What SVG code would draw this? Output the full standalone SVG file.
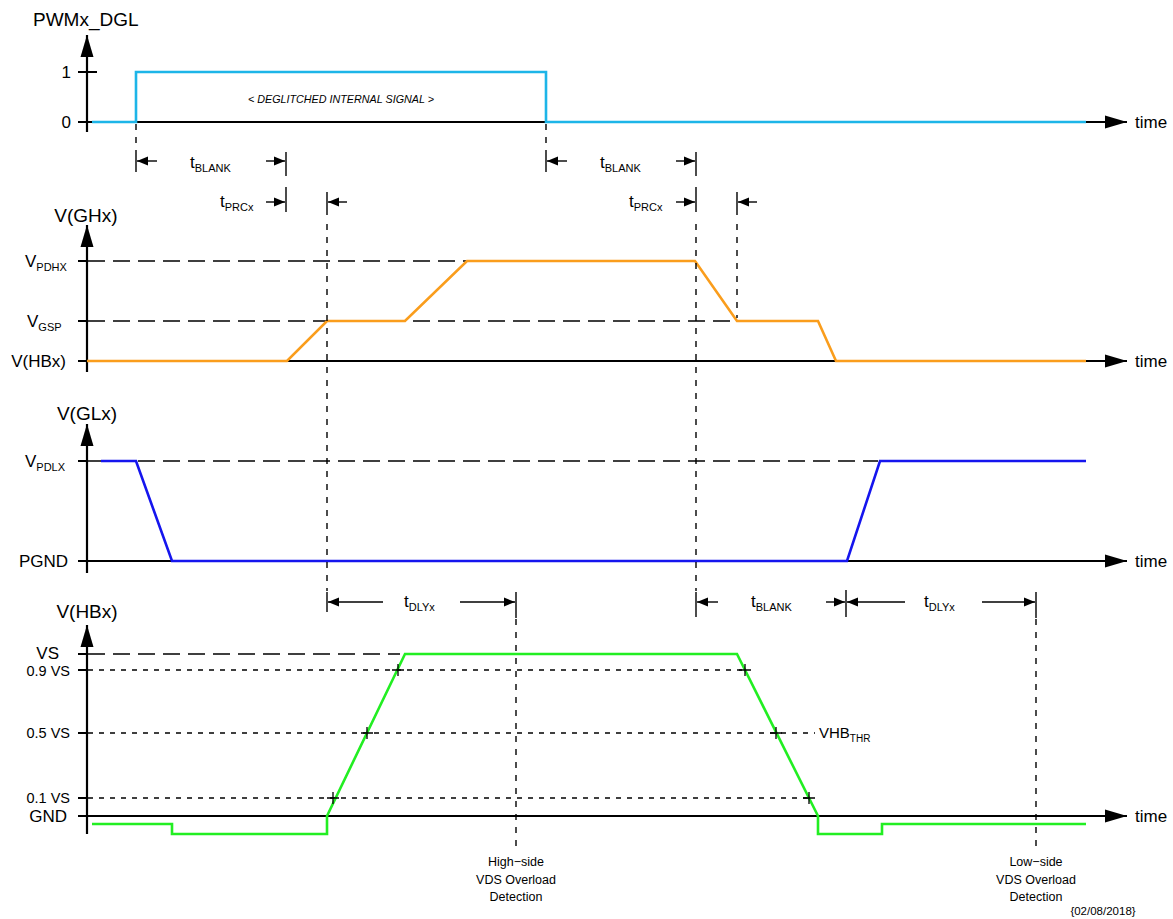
<svg xmlns="http://www.w3.org/2000/svg" width="1173" height="919" viewBox="0 0 1173 919">
<style>
text{font-family:"Liberation Sans",Arial,sans-serif;fill:#000}
.ttl{font-size:19px}
.lbl{font-size:17px}
.sml{font-size:14.5px}
.sub{font-size:11px}
.note{font-size:12.5px}
.ax{stroke:#000;stroke-width:2.2;fill:none}
.tk{stroke:#000;stroke-width:2;fill:none}
.sig{fill:none;stroke-width:2.6;stroke-linejoin:miter}
.ld{stroke:#000;stroke-width:1.4;stroke-dasharray:17 8;fill:none}
.sd{stroke:#000;stroke-width:1.3;stroke-dasharray:5 6;fill:none}
.vd{stroke:#000;stroke-width:1.4;stroke-dasharray:6 7;fill:none}
.bar{stroke:#000;stroke-width:1.4;fill:none}
.dim{stroke:#000;stroke-width:1.4;fill:none;marker-end:url(#ah)}
.pl{stroke:#000;stroke-width:1.3;fill:none}
</style>
<defs>
<marker id="ah" markerUnits="userSpaceOnUse" markerWidth="12" markerHeight="10" refX="11" refY="5" orient="auto">
<path d="M0,0.5 L11,5 L0,9.5 z" fill="#000"/>
</marker>
<marker id="big" markerUnits="userSpaceOnUse" markerWidth="23" markerHeight="14" refX="22" refY="7" orient="auto">
<path d="M0,0.5 L22,7 L0,13.5 z" fill="#000"/>
</marker>
</defs>

<!-- Panel 1: PWMx_DGL -->
<g id="panel-pwm">
<text class="ttl" x="33" y="26">PWMx_DGL</text>
<path class="ax" d="M87,132 V35" marker-end="url(#big)"/>
<path class="ax" d="M78,122 H1127" marker-end="url(#big)"/>
<path class="tk" d="M78,72 H97"/>
<text class="lbl" x="71" y="78" text-anchor="end">1</text>
<text class="lbl" x="71" y="128" text-anchor="end">0</text>
<text class="lbl" x="1135" y="128">time</text>
<path class="sig" stroke="#1DB5E8" d="M92,122 H136 V72 H546 V122 H1086"/>
<text x="341" y="103" text-anchor="middle" font-size="11" font-style="italic" textLength="186" lengthAdjust="spacingAndGlyphs">&lt; DEGLITCHED INTERNAL SIGNAL &gt;</text>
</g>

<!-- Panel 2: V(GHx) -->
<g id="panel-ghx">
<text class="ttl" x="86" y="222" text-anchor="middle">V(GHx)</text>
<path class="ax" d="M87,372 V225" marker-end="url(#big)"/>
<path class="ax" d="M78,361 H1127" marker-end="url(#big)"/>
<path class="tk" d="M78,261 H87 M78,321 H87"/>
<path class="ld" d="M88,261 H466"/>
<path class="ld" d="M88,321 H732"/>
<text class="lbl" x="25" y="267">V<tspan class="sub" dy="4">PDHX</tspan></text>
<text class="lbl" x="27" y="327">V<tspan class="sub" dy="4">GSP</tspan></text>
<text class="lbl" x="66" y="367" text-anchor="end">V(HBx)</text>
<text class="lbl" x="1135" y="367">time</text>
<path class="sig" stroke="#FA9D1C" d="M87,361 H287 L327,321 H405 L467,261 H695 L737,321 H818 L836,361 H1086"/>
</g>

<!-- Panel 3: V(GLx) -->
<g id="panel-glx">
<text class="ttl" x="87" y="420" text-anchor="middle">V(GLx)</text>
<path class="ax" d="M87,573 V424" marker-end="url(#big)"/>
<path class="ax" d="M78,561 H1127" marker-end="url(#big)"/>
<path class="tk" d="M78,461 H87"/>
<path class="ld" d="M88,461 H878"/>
<text class="lbl" x="25" y="467">V<tspan class="sub" dy="4">PDLX</tspan></text>
<text class="lbl" x="68" y="567" text-anchor="end">PGND</text>
<text class="lbl" x="1135" y="567">time</text>
<path class="sig" stroke="#1515EE" d="M101,461 H136 L172,561 H847 L880,461 H1086"/>
</g>

<!-- Panel 4: V(HBx) -->
<g id="panel-hbx">
<text class="ttl" x="87" y="618" text-anchor="middle">V(HBx)</text>
<path class="ax" d="M87,834 V625" marker-end="url(#big)"/>
<path class="ax" d="M78,816 H1127" marker-end="url(#big)"/>
<path class="tk" d="M78,654 H87 M78,670 H87 M78,733 H87 M78,798 H87"/>
<path class="ld" d="M88,654 H400"/>
<path class="sd" d="M88,670 H745"/>
<path class="sd" d="M88,733 H815"/>
<path class="sd" d="M88,798 H808"/>
<text class="lbl" x="59" y="659" text-anchor="end">VS</text>
<text class="sml" x="70" y="676" text-anchor="end">0.9 VS</text>
<text class="sml" x="70" y="738" text-anchor="end">0.5 VS</text>
<text class="sml" x="70" y="803" text-anchor="end">0.1 VS</text>
<text class="lbl" x="67" y="822" text-anchor="end">GND</text>
<text class="lbl" x="1135" y="822">time</text>
<text x="819" y="738" font-size="15">VHB<tspan font-size="10" dy="4">THR</tspan></text>
<path class="sig" stroke="#22EE22" d="M92,824 H172 V834 H327 V816 L405,654 H737 L818,816 V834 H882 V824 H1086"/>
<path class="pl" d="M327,798 H339 M333,792 V804 M361,733 H373 M367,727 V739 M392,670 H404 M398,664 V676 M739,670 H751 M745,664 V676 M770,733 H782 M776,727 V739 M803,798 H815 M809,792 V804"/>
</g>

<!-- Timing connectors -->
<g id="connectors">
<path class="vd" d="M136,124 V150 M546,124 V150 M327,224 V591 M696,224 V591 M737,224 V318 M516,619 V850 M1036,619 V850"/>
<path class="bar" d="M136,150 V172 M286,152 V176 M546,150 V172 M696,152 V176 M286,187 V212 M327,192 V215 M696,187 V212 M737,192 V215 M327,592 V612 M516,592 V618 M696,592 V617 M846,590 V617 M1036,592 V618"/>
<path class="dim" d="M157,161 H137"/>
<path class="dim" d="M266,161 H285"/>
<path class="dim" d="M567,161 H547"/>
<path class="dim" d="M676,161 H695"/>
<path class="dim" d="M266,202 H285"/>
<path class="dim" d="M347,202 H328"/>
<path class="dim" d="M676,202 H695"/>
<path class="dim" d="M757,202 H738"/>
<path class="dim" d="M383,602 H328"/>
<path class="dim" d="M460,602 H515"/>
<path class="dim" d="M718,602 H697"/>
<path class="dim" d="M826,602 H845"/>
<path class="dim" d="M905,602 H847"/>
<path class="dim" d="M982,602 H1035"/>
</g>

<g id="labels">
<text class="lbl" x="190" y="168">t<tspan class="sub" dy="4">BLANK</tspan></text>
<text class="lbl" x="600" y="168">t<tspan class="sub" dy="4">BLANK</tspan></text>
<text class="lbl" x="220" y="207">t<tspan class="sub" dy="4">PRCx</tspan></text>
<text class="lbl" x="629" y="207">t<tspan class="sub" dy="4">PRCx</tspan></text>
<text class="lbl" x="404" y="607">t<tspan class="sub" dy="4">DLYx</tspan></text>
<text class="lbl" x="751" y="607">t<tspan class="sub" dy="4">BLANK</tspan></text>
<text class="lbl" x="924" y="607">t<tspan class="sub" dy="4">DLYx</tspan></text>
<text class="note" x="516" y="866" text-anchor="middle">High−side</text>
<text class="note" x="516" y="884" text-anchor="middle">VDS Overload</text>
<text class="note" x="516" y="901" text-anchor="middle">Detection</text>
<text class="note" x="1036" y="866" text-anchor="middle">Low−side</text>
<text class="note" x="1036" y="884" text-anchor="middle">VDS Overload</text>
<text class="note" x="1036" y="901" text-anchor="middle">Detection</text>
<text x="1103" y="915" font-size="11.5" text-anchor="middle">{02/08/2018}</text>
</g>
</svg>
